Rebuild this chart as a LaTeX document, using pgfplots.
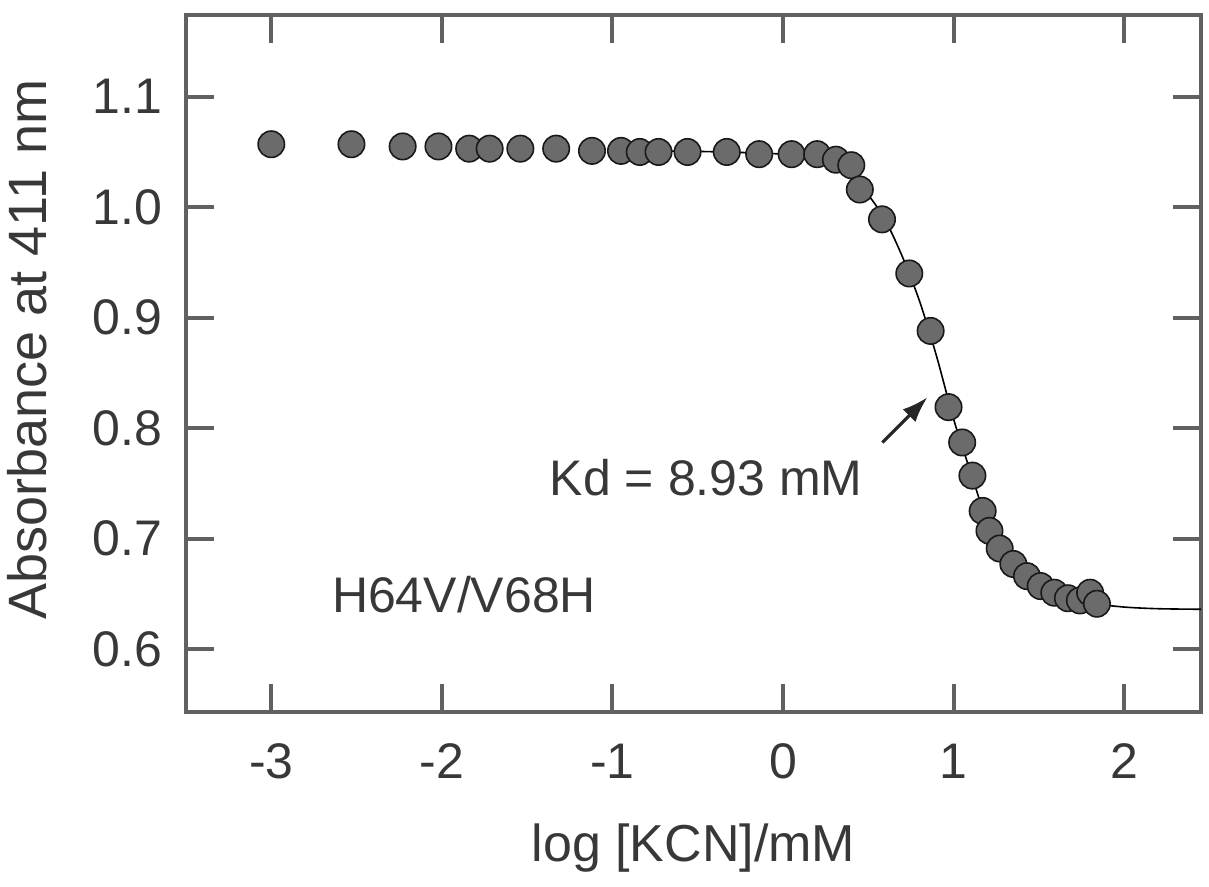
\documentclass[border=0pt]{standalone}
\usepackage{pgfplots}
\pgfplotsset{compat=1.18}
\usepackage{fontspec}
\setmainfont{Liberation Sans}
\usetikzlibrary{arrows.meta}

\pgfplotstableread{
x y
-3.00 1.057
-2.53 1.057
-2.23 1.055
-2.02 1.055
-1.84 1.053
-1.72 1.053
-1.54 1.053
-1.33 1.053
-1.12 1.051
-0.95 1.051
-0.84 1.050
-0.73 1.050
-0.56 1.050
-0.33 1.050
-0.14 1.048
0.05 1.048
0.20 1.048
0.31 1.043
0.40 1.038
0.45 1.016
0.58 0.989
0.74 0.940
0.865 0.888
0.97 0.819
1.05 0.787
1.11 0.757
1.17 0.725
1.21 0.707
1.27 0.691
1.35 0.677
1.43 0.666
1.51 0.657
1.59 0.651
1.67 0.646
1.74 0.644
1.80 0.651
1.84 0.641
}\datatable

\pgfplotstableread{
x y
-0.95 1.051
-0.50 1.0505
0.00 1.048
0.20 1.0425
0.30 1.037
0.40 1.027
0.50 1.011
0.60 0.988
0.70 0.955
0.80 0.915
0.90 0.865
1.00 0.808
1.10 0.760
1.20 0.714
1.30 0.687
1.40 0.669
1.50 0.657
1.60 0.650
1.70 0.645
1.80 0.6415
2.00 0.638
2.20 0.6365
2.45 0.636
}\fittable

\definecolor{axisgray}{gray}{0.38}
\definecolor{txtgray}{gray}{0.22}

\begin{document}
\begin{tikzpicture}
\useasboundingbox (-93pt,-87.5pt) rectangle (511.5pt,356pt);
\begin{axis}[
  scale only axis,
  width=507.5pt, height=348.5pt,
  xmin=-3.5, xmax=2.45,
  ymin=0.543, ymax=1.174,
  axis line style={line width=2pt, draw=axisgray},
  every tick/.style={line width=2pt, draw=axisgray},
  major tick length=14pt,
  tick align=inside,
  xtick={-3,-2,-1,0,1,2},
  xticklabels={-3,-2,-1,0,1,2},
  ytick={0.6,0.7,0.8,0.9,1.0,1.1},
  yticklabels={0.6,0.7,0.8,0.9,1.0,1.1},
  tick label style={font=\fontsize{25}{30}\selectfont, text=txtgray},
  xticklabel style={yshift=-12.5pt},
  yticklabel style={xshift=-8.5pt},
  xlabel={log [KCN]/mM},
  ylabel={Absorbance at 411 nm},
  label style={text=txtgray},
  xlabel style={font=\fontsize{26}{31}\selectfont, at={(axis description cs:0.5,-0.215)}, anchor=base},
  ylabel style={font=\fontsize{27}{32}\selectfont, at={(axis description cs:-0.137,0.52)}, anchor=base},
  clip=false,
]
\addplot[black, line width=0.8pt, smooth, no markers] table[x=x,y=y] {\fittable};
\addplot[only marks, mark=*, mark size=6.6pt,
  mark options={fill=black!58, draw=black!90, line width=0.8pt}] table[x=x,y=y] {\datatable};
\draw[-{Latex[length=13pt,width=9pt]}, line width=1.6pt, black!85] (axis cs:0.582,0.787) -- (axis cs:0.847,0.828);
\node[anchor=base, text=txtgray, font=\fontsize{25}{30}\selectfont] at (axis cs:-0.45,0.739) {Kd = 8.93 mM};
\node[anchor=base, text=txtgray, font=\fontsize{25}{30}\selectfont] at (axis cs:-1.87,0.633) {H64V/V68H};
\end{axis}
\end{tikzpicture}
\end{document}
